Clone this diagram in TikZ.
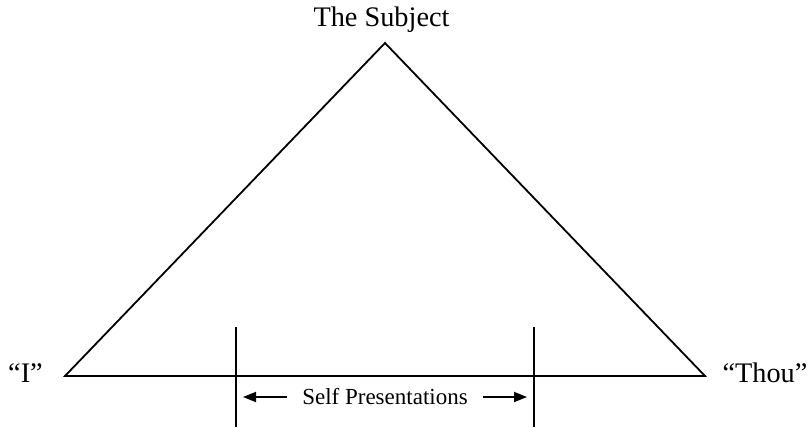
\documentclass[tikz,border=0pt]{standalone}
\usepackage{fontspec}
\setmainfont{Liberation Serif}
\usetikzlibrary{arrows.meta}
\begin{document}
\begin{tikzpicture}[x=1pt,y=-1pt,
  edge/.style={line width=1.8pt,line join=miter},
  lbl/.style={inner sep=0pt,anchor=base,font=\fontsize{28.3}{32}\selectfont},
  small/.style={inner sep=0pt,anchor=base,font=\fontsize{23}{26}\selectfont},
  dimarrow/.style={line width=1.8pt,-{Triangle[length=13pt,width=10pt]}}]
\useasboundingbox (0,0) rectangle (809,428);
\coordinate (apex) at (385,43);
\coordinate (L) at (65,376);
\coordinate (R) at (705,376);
\coordinate (t1a) at (236,327);
\coordinate (t1b) at (236,427);
\coordinate (t2a) at (534,327);
\coordinate (t2b) at (534,427);
\draw[edge] (L) -- (apex) -- (R) -- cycle;
\draw[edge] (t1a) -- (t1b);
\draw[edge] (t2a) -- (t2b);
\node[lbl] (subj) at (381.5,27) {The Subject};
\node[lbl] (I) at (25.5,382) {“I”};
\node[lbl] (thou) at (765,382) {“Thou”};
\node[small] (sp) at (385,404) {Self Presentations};
\coordinate (a1s) at (287,397);
\coordinate (a1e) at (243,397);
\coordinate (a2s) at (483,397);
\coordinate (a2e) at (527,397);
\draw[dimarrow] (a1s) -- (a1e);
\draw[dimarrow] (a2s) -- (a2e);
\end{tikzpicture}
\end{document}
